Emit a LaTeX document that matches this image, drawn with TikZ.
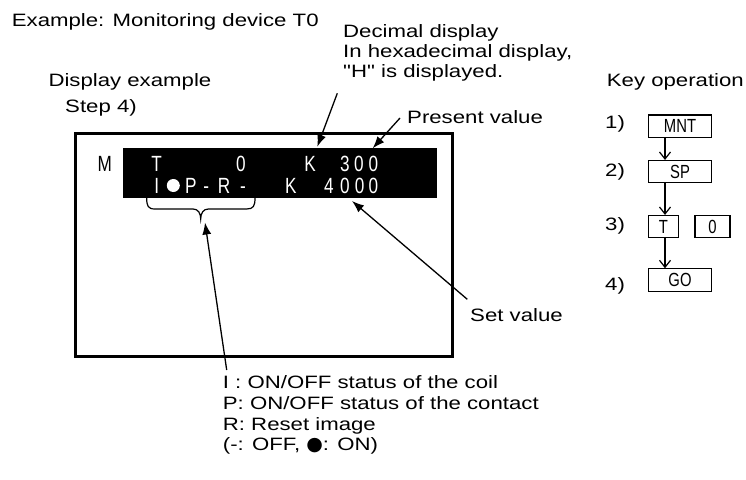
\documentclass[tikz,border=0pt]{standalone}
\usepackage{fontspec}
\setmainfont{Liberation Sans}[FakeStretch=1.24, Ligatures=TeXOff]
\newfontfamily\lcd{Liberation Sans}[FakeStretch=0.78]
\newfontfamily\symfont{DejaVu Sans}
\usetikzlibrary{arrows.meta}
\begin{document}
\begin{tikzpicture}[x=1pt,y=-1pt,
  lbl/.style={anchor=base west, inner sep=0, font=\fontsize{17.9}{20}\selectfont},
  dsp/.style={anchor=base, inner sep=0, text=white, font=\lcd\fontsize{22}{24}\selectfont},
  keybox/.style={draw, line width=1.2pt, minimum height=22.3pt, inner sep=0, font=\lcd\fontsize{19}{20}\selectfont},
  ptr/.style={line width=1.3pt, -{Latex[length=12pt,width=9pt]}},
  kar/.style={line width=1.2pt, -{Straight Barb[length=7pt,width=11pt]}}]
\useasboundingbox (0,0) rectangle (746,479);
% texts
\node[lbl] (ex) at (11.7,26) {Example: Monitoring device T0};
\node[lbl] (dec1) at (343,37.3) {Decimal display};
\node[lbl] (dec2) at (343,57.3) {In hexadecimal display,};
\node[lbl] (dec3) at (343,77.3) {"H" is displayed.};
\node[lbl] (pv) at (407,123.3) {Present value};
\node[lbl] (de1) at (48.3,86.7) {Display example};
\node[lbl] (de2) at (65,112) {Step 4)};
\node[lbl] (ko) at (606.7,86.7) {Key operation};
\node[lbl] (setv) at (470,321.7) {Set value};
\node[lbl] (b1) at (222.7,388.3) {I : ON/OFF status of the coil};
\node[lbl] (b2) at (222.7,409.3) {P: ON/OFF status of the contact};
\node[lbl] (b3) at (222.7,430) {R: Reset image};
\node[lbl] (b4) at (222.7,450.7) {(-: OFF, {\symfont\fontsize{19}{19}\selectfont ●}: ON)};
% display
\draw[line width=3.3pt] (75.7,133.3) rectangle (452.3,356.7);
\fill (123.3,148.3) rectangle (436.7,197.7);
\node[dsp, text=black] (m) at (104.7,171) {M};
\node[dsp] (r1a) at (156.7,171) {T};
\node[dsp] (r1b) at (241,171) {0};
\node[dsp] (r1c) at (310,171) {K};
\node[dsp] (r1d) at (345,171) {3};
\node[dsp] (r1e) at (359,171) {0};
\node[dsp] (r1f) at (373.3,171) {0};
\node[dsp] (r2a) at (156.7,193.3) {I};
\node[circle, fill=white, minimum size=13pt, inner sep=0] (dot) at (173.3,185.5) {};
\node[dsp] (r2b) at (190.8,193.3) {P};
\node[dsp] (r2c) at (206.2,193.3) {-};
\node[dsp] (r2d) at (224,193.3) {R};
\node[dsp] (r2e) at (243,193.3) {-};
\node[dsp] (r2f) at (290.8,193.3) {K};
\node[dsp] (r2g) at (329,193.3) {4};
\node[dsp] (r2h) at (345,193.3) {0};
\node[dsp] (r2i) at (359.7,193.3) {0};
\node[dsp] (r2j) at (373.3,193.3) {0};
% brace
\draw[line width=1.2pt] (146.7,198) .. controls (146.7,206) and (148,209) .. (155,209) -- (193,209)
  .. controls (198,209) and (200.7,213) .. (200.7,219)
  .. controls (200.7,213) and (203.4,209) .. (208.4,209) -- (246.7,209)
  .. controls (253.4,209) and (255,206) .. (255,198);
% pointer arrows
\coordinate (decS) at (337.3,93.3);
\coordinate (decT) at (317.3,146.7);
\coordinate (pvS) at (400,118);
\coordinate (pvT) at (372.7,148.3);
\coordinate (svS) at (467.3,299.3);
\coordinate (svT) at (352,201);
\coordinate (brS) at (226.7,370);
\coordinate (brT) at (205,222.5);
\draw[ptr] (decS) -- (decT);
\draw[ptr] (pvS) -- (pvT);
\draw[ptr] (svS) -- (svT);
\draw[ptr] (brS) -- (brT);
% key operation
\node[lbl] (k1) at (605,128.3) {1)};
\node[lbl] (k2) at (605,176.7) {2)};
\node[lbl] (k3) at (605,230) {3)};
\node[lbl] (k4) at (605,290) {4)};
\node[keybox, minimum width=63.4pt] (mnt) at (680,126.2) {MNT};
\node[keybox, minimum width=63.4pt] (sp) at (680,171.7) {SP};
\node[keybox, minimum width=30pt] (kt) at (663.3,226.7) {T};
\node[keybox, minimum width=35pt] (k0) at (712.5,226.7) {0};
\node[keybox, minimum width=63.4pt] (go) at (680,280) {GO};
\coordinate (kx) at (665,0);
\draw[kar] (mnt.south -| kx) -- (sp.north -| kx);
\draw[kar] (sp.south -| kx) -- (kt.north -| kx);
\draw[kar] (kt.south -| kx) -- (go.north -| kx);
\end{tikzpicture}
\end{document}
